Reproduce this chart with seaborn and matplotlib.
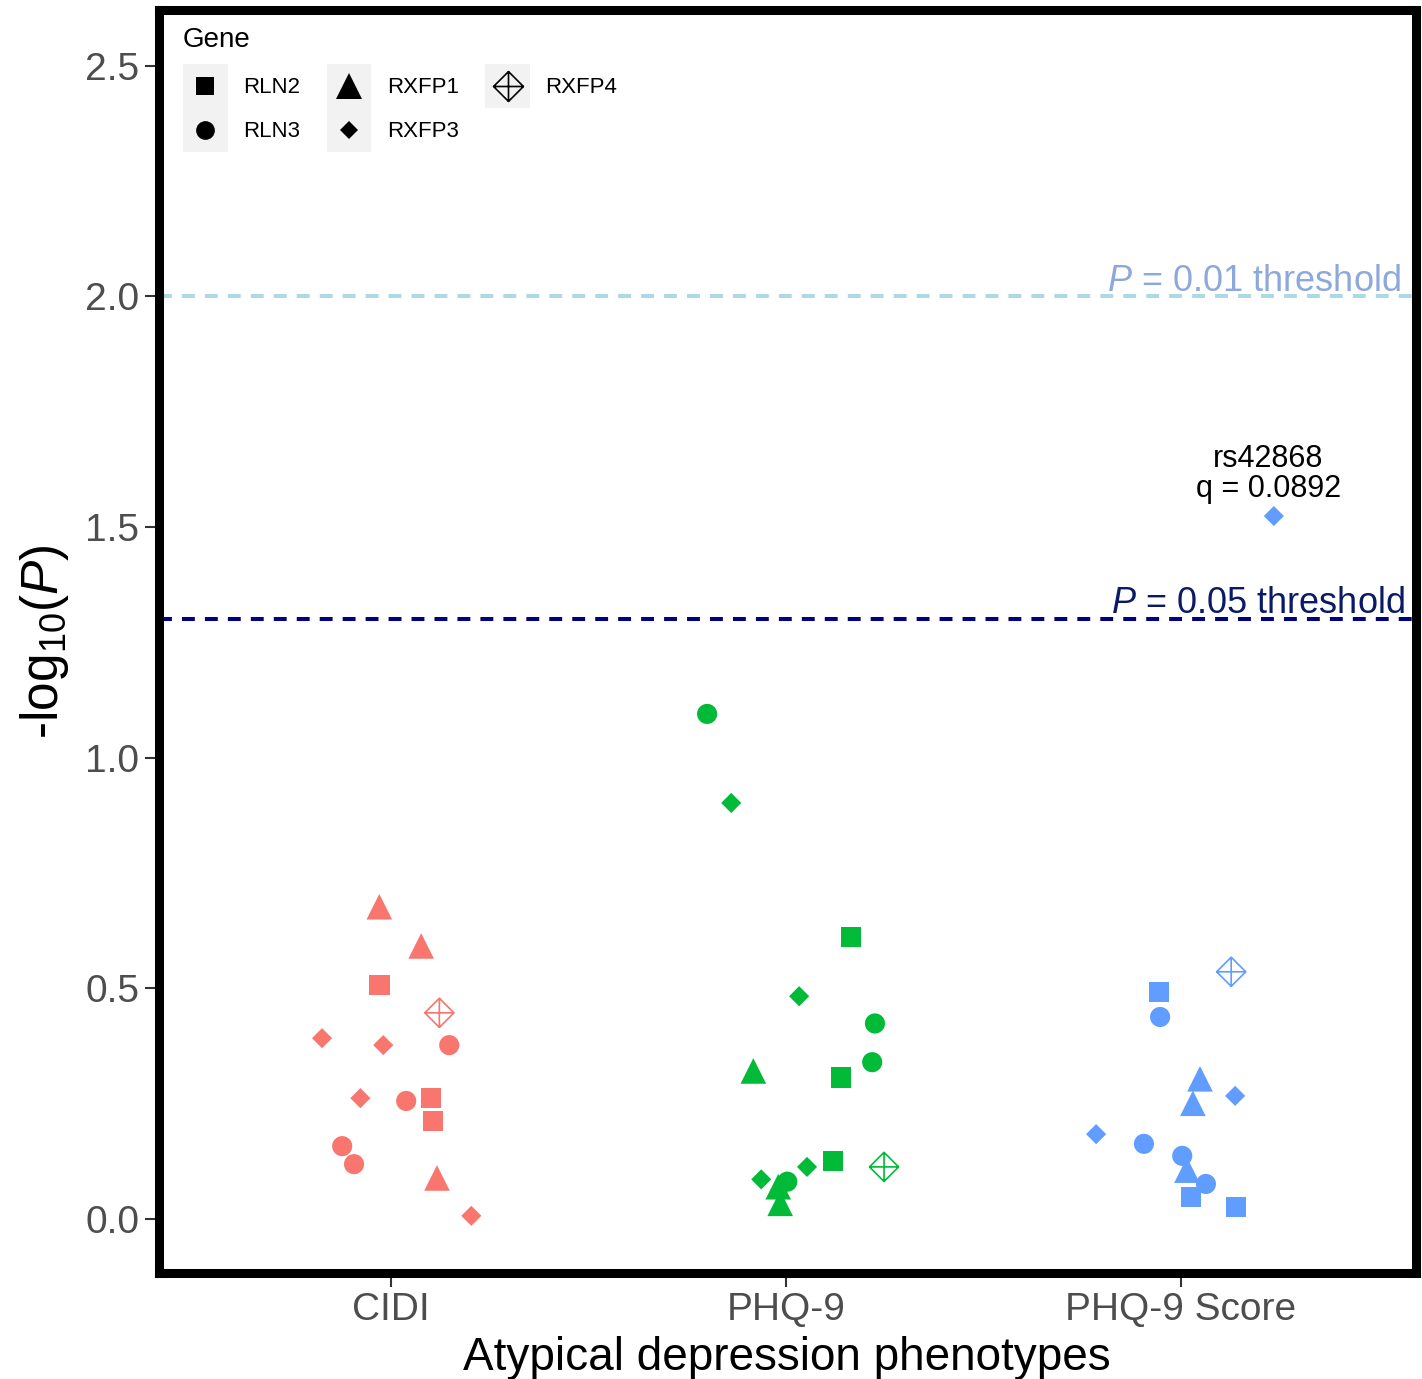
import numpy as np
import pandas as pd
import matplotlib
matplotlib.use("Agg")
import matplotlib.pyplot as plt
import seaborn as sns
from matplotlib.path import Path
from matplotlib.markers import MarkerStyle
from matplotlib.lines import Line2D
from matplotlib.patches import Rectangle
from matplotlib.legend_handler import HandlerBase

# ---------------- data ----------------
phenotypes = ["CIDI", "PHQ-9", "PHQ-9 Score"]
gene_order = ["RLN2", "RLN3", "RXFP1", "RXFP3", "RXFP4"]
pheno_colors = ["#F8766D", "#00BA38", "#619CFF"]

cidi_genes = ["RXFP1", "RXFP1", "RLN2", "RXFP4", "RXFP3", "RXFP3", "RLN3", "RXFP3",
              "RLN3", "RLN2", "RLN2", "RLN3", "RLN3", "RXFP1", "RXFP3"]
cidi_logp = [0.677, 0.592, 0.507, 0.447, 0.392, 0.377, 0.377, 0.262,
             0.256, 0.262, 0.212, 0.158, 0.119, 0.089, 0.007]
cidi_jitter = [-0.030, 0.076, -0.030, 0.122, -0.175, -0.020, 0.147, -0.078,
               0.038, 0.101, 0.106, -0.124, -0.094, 0.116, 0.203]

phq_genes = ["RLN3", "RXFP3", "RLN2", "RXFP3", "RLN3", "RLN3", "RXFP1", "RLN2",
             "RLN2", "RXFP4", "RXFP3", "RXFP3", "RXFP1", "RXFP1", "RLN3"]
phq_logp = [1.095, 0.902, 0.611, 0.483, 0.424, 0.340, 0.321, 0.307,
            0.126, 0.113, 0.113, 0.086, 0.070, 0.034, 0.081]
phq_jitter = [-0.200, -0.139, 0.165, 0.033, 0.225, 0.218, -0.083, 0.139,
              0.119, 0.248, 0.053, -0.063, -0.020, -0.015, 0.003]

score_genes = ["RXFP3", "RXFP4", "RLN2", "RLN3", "RXFP1", "RXFP3", "RXFP1",
               "RXFP3", "RLN3", "RLN3", "RXFP1", "RLN3", "RLN2", "RLN2"]
score_logp = [1.524, 0.536, 0.492, 0.438, 0.304, 0.267, 0.251,
              0.184, 0.163, 0.137, 0.106, 0.076, 0.048, 0.026]
score_jitter = [0.235, 0.127, -0.056, -0.053, 0.048, 0.137, 0.030,
                -0.215, -0.094, 0.003, 0.015, 0.063, 0.025, 0.139]

p_thresholds = [0.05, 0.01]
annot_snp = "rs42868"
annot_q = 0.0892
yticks = [0.0, 0.5, 1.0, 1.5, 2.0, 2.5]

# ---------------- build table ----------------
frames = []
for i, (ph, g, lp, jt) in enumerate(zip(phenotypes,
                                        [cidi_genes, phq_genes, score_genes],
                                        [cidi_logp, phq_logp, score_logp],
                                        [cidi_jitter, phq_jitter, score_jitter])):
    frames.append(pd.DataFrame({"pheno": ph, "gene": g, "logp": lp,
                                "x": i + np.asarray(jt)}))
df = pd.concat(frames, ignore_index=True)

# ---------------- style ----------------
plt.rcParams["font.family"] = ["Liberation Sans", "DejaVu Sans"]
plt.rcParams["mathtext.fontset"] = "custom"
plt.rcParams["mathtext.rm"] = "Liberation Sans"
plt.rcParams["mathtext.it"] = "Liberation Sans:italic"
plt.rcParams["mathtext.default"] = "regular"

# diamond with plus (ggplot shape 9)
plus_diamond = Path(
    [(0, 1), (1, 0), (0, -1), (-1, 0), (0, 1),
     (-1, 0), (1, 0), (0, -1), (0, 1)],
    [Path.MOVETO, Path.LINETO, Path.LINETO, Path.LINETO, Path.CLOSEPOLY,
     Path.MOVETO, Path.LINETO, Path.MOVETO, Path.LINETO])

palette = dict(zip(phenotypes, pheno_colors))
filled_markers = {"RLN2": "s", "RLN3": "o", "RXFP1": "^", "RXFP3": "D"}
filled_sizes = {"RLN2": 215, "RLN3": 210, "RXFP1": 340, "RXFP3": 105}

fig = plt.figure(figsize=(14.22, 13.79), dpi=100)
ax = fig.add_axes([0.1115, 0.0772, 0.9958 - 0.1115, 0.99275 - 0.0772])

# threshold lines
ax.axhline(-np.log10(p_thresholds[1]), color="#ADD8E6", lw=2.9,
           ls=(0, (3.2, 2.5)), zorder=1)
ax.axhline(-np.log10(p_thresholds[0]), color="#000080", lw=2.9,
           ls=(0, (3.2, 2.5)), zorder=1)

df_f = df[df["gene"] != "RXFP4"]
sns.scatterplot(data=df_f, x="x", y="logp", hue="pheno", palette=palette,
                style="gene", markers=filled_markers,
                size="gene", sizes=filled_sizes,
                linewidth=0, legend=False, ax=ax, zorder=3)

df_o = df[df["gene"] == "RXFP4"]
sns.scatterplot(data=df_o, x="x", y="logp", hue="pheno", palette=palette,
                marker=MarkerStyle(plus_diamond), s=440, linewidth=1.2,
                legend=False, ax=ax, zorder=3)
coll = ax.collections[-1]
coll.set_edgecolors(coll.get_facecolors())
coll.set_facecolors("none")

# threshold labels
ax.text(2.556, -np.log10(p_thresholds[1]) + 0.012, r"$\mathit{P}$ = 0.01 threshold",
        ha="right", va="baseline", fontsize=26, color="#8DA9DB", zorder=4)
ax.text(2.568, -np.log10(p_thresholds[0]) + 0.012, r"$\mathit{P}$ = 0.05 threshold",
        ha="right", va="baseline", fontsize=26, color="#0B1A66", zorder=4)

# annotation of top point
top = df.loc[df["logp"].idxmax()]
ax.annotate(f"{annot_snp}\nq = {annot_q}", xy=(top["x"], top["logp"]),
            xytext=(-4, 9), textcoords="offset points",
            ha="center", va="bottom", fontsize=22, linespacing=1.0,
            color="black", zorder=4)

# axes
ax.set_xlim(-0.589, 2.595)
ax.set_ylim(-0.116, 2.621)
ax.set_xticks(range(len(phenotypes)))
ax.set_xticklabels(phenotypes)
ax.set_yticks(yticks)
ax.set_yticklabels([f"{v:.1f}" for v in yticks])
ax.tick_params(axis="both", labelsize=28, labelcolor="#4D4D4D", color="#333333",
               length=10, width=1.5, pad=4)
ax.set_xlabel("Atypical depression phenotypes", fontsize=33, labelpad=6)
ax.set_ylabel(r"-log$_{10}$($\mathit{P}$)", fontsize=37, labelpad=10)
ax.set_facecolor("white")
for s in ax.spines.values():
    s.set_linewidth(6.5)
    s.set_color("black")
    s.set_zorder(5)
ax.grid(False)

# legend with grey key backgrounds
class KeyHandler(HandlerBase):
    def create_artists(self, legend, orig_handle, xdescent, ydescent,
                       width, height, fontsize, trans):
        bg = Rectangle((-xdescent, -ydescent), width, height,
                       facecolor="#F2F2F2", edgecolor="none", transform=trans)
        mk = Line2D([0], [0])
        mk.update_from(orig_handle)
        mk.set_data([width / 2 - xdescent], [height / 2 - ydescent])
        mk.set_linestyle("none")
        mk.set_transform(trans)
        return [bg, mk]

leg_marker = {"RLN2": ("s", 13, "black"), "RLN3": ("o", 13.5, "black"),
              "RXFP1": ("^", 18.5, "black"), "RXFP3": ("D", 9.2, "black"),
              "RXFP4": (MarkerStyle(plus_diamond), 21.5, "none")}
handles = []
for g in gene_order:
    m, ms, fc = leg_marker[g]
    handles.append(Line2D([], [], marker=m, markersize=ms, color="black",
                          markerfacecolor=fc, markeredgecolor="black",
                          markeredgewidth=1.2 if fc == "none" else 0,
                          linestyle="none", label=g))
leg = ax.legend(handles=handles, labels=gene_order, title="Gene", ncol=3,
                loc="upper left", bbox_to_anchor=(0.0195, 0.9866),
                frameon=False, fontsize=16, title_fontsize=20,
                handlelength=2.0, handleheight=2.67, labelspacing=0.0,
                handletextpad=0.7, columnspacing=1.2, borderpad=0,
                borderaxespad=0, alignment="left",
                handler_map={Line2D: KeyHandler()})
leg._legend_box.sep = 8

fig.savefig("out.png", dpi=100)
